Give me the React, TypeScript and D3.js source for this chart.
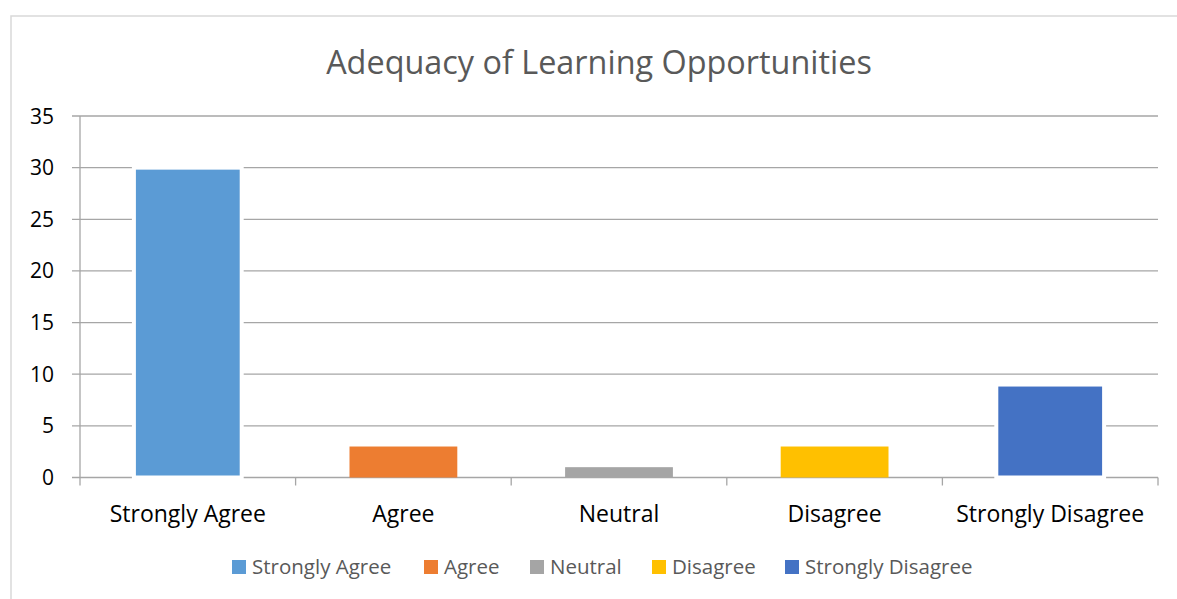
import React from "react";
import * as d3 from "d3";

const categories = ["Strongly Agree", "Agree", "Neutral", "Disagree", "Strongly Disagree"];
const values = [30, 3, 1, 3, 9];
const yTicks = [0, 5, 10, 15, 20, 25, 30, 35];
const title = "Adequacy of Learning Opportunities";

const colors = ["#5B9BD5", "#ED7D31", "#A5A5A5", "#FFC000", "#4472C4"];
const outlined = [true, false, false, false, true];

const W = 1177;
const H = 599;
const plot = { left: 80, right: 1158, top: 116, bottom: 477.5 };
const FONT = "'Open Sans', sans-serif";
const legendX = [232, 424, 530, 652, 785];

export default function App() {
  const x = d3.scaleBand<string>().domain(categories).range([plot.left, plot.right]).paddingInner(0.5).paddingOuter(0.25);
  const band = d3.scaleBand<string>().domain(categories).range([plot.left, plot.right]);
  const y = d3.scaleLinear().domain([0, 35]).range([plot.bottom, plot.top]);
  const grid = "#a6a6a6";

  return (
    <svg width={W} height={H} style={{ position: "absolute", left: 0, top: 0, background: "#fff" }} fontFamily={FONT}>
      <rect x={11} y={16} width={W} height={H} fill="#fff" stroke="#d9d9d9" strokeWidth={1.5} />
      <text x={599} y={74} textAnchor="middle" fontSize={32.4} fill="#595959">{title}</text>
      {yTicks.map((t) => (
        <g key={t}>
          <line x1={plot.left - 8} x2={plot.right} y1={y(t)} y2={y(t)} stroke={grid} strokeWidth={1.3} />
          <text x={54} y={y(t)} dy="0.36em" textAnchor="end" fontSize={21} fill="#000">{t}</text>
        </g>
      ))}
      <line x1={plot.left} x2={plot.left} y1={plot.top} y2={plot.bottom + 8} stroke={grid} strokeWidth={1.3} />
      {categories.map((c) => (
        <line key={"t" + c} x1={band(c)! + band.bandwidth()} x2={band(c)! + band.bandwidth()} y1={plot.bottom} y2={plot.bottom + 8} stroke={grid} strokeWidth={1.3} />
      ))}
      {categories.map((c, i) => (
        <rect key={"b" + c} x={x(c)} y={y(values[i])} width={x.bandwidth()} height={plot.bottom - y(values[i])}
          fill={colors[i]} stroke={outlined[i] ? "#fff" : "none"} strokeWidth={outlined[i] ? 4 : 0} />
      ))}
      {categories.map((c) => (
        <text key={"l" + c} x={band(c)! + band.bandwidth() / 2} y={521.5} textAnchor="middle" fontSize={23} fill="#000">{c}</text>
      ))}
      {categories.map((c, i) => (
        <g key={"g" + c}>
          <rect x={legendX[i]} y={560} width={14} height={14} fill={colors[i]} />
          <text x={legendX[i] + 20} y={574} fontSize={20.5} fill="#595959">{c}</text>
        </g>
      ))}
    </svg>
  );
}
